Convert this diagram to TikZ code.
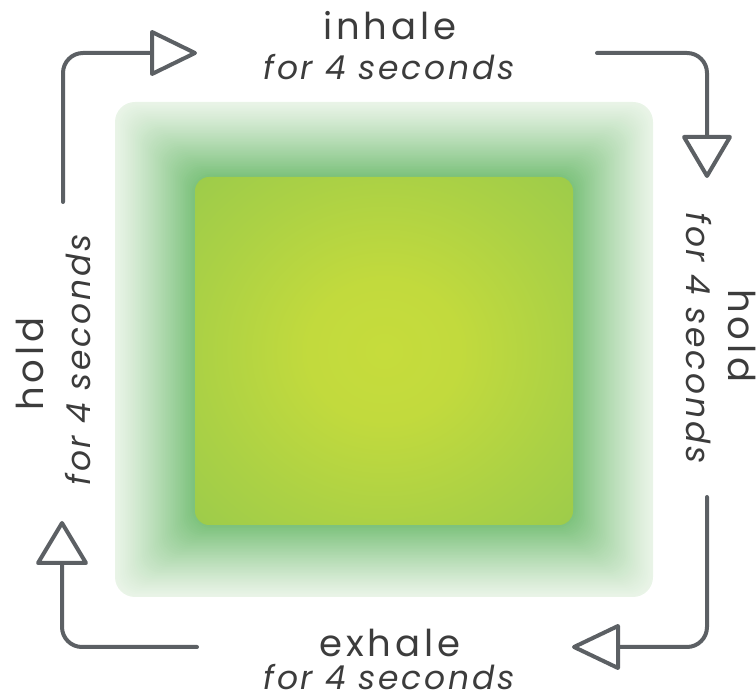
\documentclass[tikz,border=0pt]{standalone}
\usepackage{fontspec}
\setmainfont{Poppins}
\newfontfamily\labelfont[LetterSpace=11]{Poppins}
\newfontfamily\subfont[LetterSpace=8]{Poppins}
\definecolor{edgecol}{HTML}{F0F7EE}
\definecolor{ringgreen}{HTML}{7AC17A}
\definecolor{sqcenter}{HTML}{C6DC3C}
\definecolor{sqinner}{HTML}{C2DA3D}
\definecolor{sqmid}{HTML}{ABD145}
\definecolor{sqedge}{HTML}{89C452}
\definecolor{sqcorner}{HTML}{82C15A}
\definecolor{arrowgray}{HTML}{5C6064}
\definecolor{textgray}{HTML}{3C3C3C}
\pgfdeclareradialshading{sqshade}{\pgfpoint{0bp}{0bp}}{%
  color(0bp)=(sqcenter); color(10bp)=(sqinner); color(25bp)=(sqmid);
  color(50bp)=(sqedge); color(72bp)=(sqcorner); color(100bp)=(sqcorner)}
\begin{document}
\begin{tikzpicture}[x=1pt,y=-1pt,
  lbl/.style={text=textgray, font=\labelfont\fontsize{37}{40}\selectfont, inner sep=0pt},
  sublbl/.style={text=textgray, font=\subfont\fontsize{33}{36}\selectfont\itshape, inner sep=0pt},
  flowline/.style={draw=arrowgray, line width=4, rounded corners=20, line cap=round},
  tiphead/.style={draw=arrowgray, line width=4, fill=white, line join=round}]
\useasboundingbox (0,0) rectangle (756,700);

% outer soft frame: nested rounded squares fading from pale edge to green
\foreach \i in {0,...,48}{
  \pgfmathsetmacro\t{\i/48}
  \pgfmathsetmacro\p{6+94*(\t^1.15)}
  \fill[ringgreen!\p!edgecol, rounded corners=20]
    ({115+80*\t},{102+75*\t}) rectangle ({653-80*\t},{597-72*\t});
}
% inner square with a yellow-green glow in the middle
\shade[shading=sqshade, rounded corners=14] (195,177) rectangle (573,525);

% top-left: up and right
\coordinate (tlA) at (63,202);
\coordinate (tlB) at (63,53);
\coordinate (tlC) at (152,53);
\draw[flowline] (tlA) -- (tlB) -- (tlC);
\draw[tiphead] (tlC) -- ++(0,-21) -- ++(43,21) -- ++(-43,21) -- cycle;

% top-right: right and down
\coordinate (trA) at (597,53);
\coordinate (trB) at (707,53);
\coordinate (trC) at (707,137);
\draw[flowline] (trA) -- (trB) -- (trC);
\draw[tiphead] (trC) -- ++(-23,0) -- ++(23,39) -- ++(23,-39) -- cycle;

% bottom-right: down and left
\coordinate (brA) at (707,497);
\coordinate (brB) at (707,647);
\coordinate (brC) at (618,647);
\draw[flowline] (brA) -- (brB) -- (brC);
\draw[tiphead] (brC) -- ++(0,-21) -- ++(-44,21) -- ++(44,21) -- cycle;

% bottom-left: left and up
\coordinate (blA) at (197,647);
\coordinate (blB) at (62,647);
\coordinate (blC) at (62,563);
\draw[flowline] (blA) -- (blB) -- (blC);
\draw[tiphead] (blC) -- ++(-24,0) -- ++(24,-40) -- ++(24,40) -- cycle;

% labels
\node[lbl, anchor=base] (inhale) at (390,40) {inhale};
\node[sublbl, anchor=base] (inhaleT) at (389,80) {for 4 seconds};
\node[lbl, anchor=base] (exhale) at (390,657) {exhale};
\node[sublbl, anchor=base] (exhaleT) at (389,689) {for 4 seconds};
\node[lbl, anchor=base, rotate=90] (holdL) at (43,364) {hold};
\node[sublbl, anchor=base, rotate=90] (holdLT) at (90,360) {for 4 seconds};
\node[lbl, anchor=base, rotate=-90] (holdR) at (728,336) {hold};
\node[sublbl, anchor=base, rotate=-90] (holdRT) at (686,338) {for 4 seconds};
\end{tikzpicture}
\end{document}
